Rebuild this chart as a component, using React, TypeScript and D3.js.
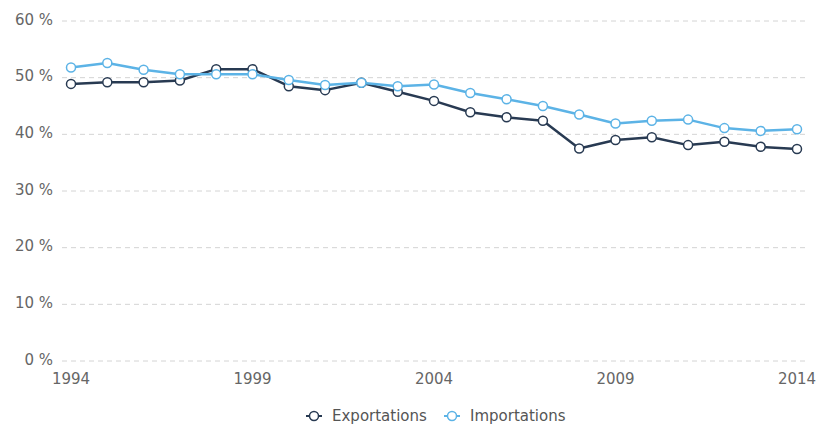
import React, { useEffect, useRef } from 'react';
import * as d3 from 'd3';

const WIDTH = 819;
const HEIGHT = 425;
const MARGIN = { top: 21, right: 22, bottom: 64, left: 71 };
const FONT = "'DejaVu Sans', Verdana, sans-serif";

const YEARS = [1994, 1995, 1996, 1997, 1998, 1999, 2000, 2001, 2002, 2003, 2004,
    2005, 2006, 2007, 2008, 2009, 2010, 2011, 2012, 2013, 2014];
const EXPORTS = [48.9, 49.2, 49.2, 49.5, 51.5, 51.5, 48.5, 47.8, 49.1, 47.5, 45.9,
    43.9, 43.0, 42.4, 37.5, 39.0, 39.5, 38.1, 38.7, 37.8, 37.4];
const IMPORTS = [51.8, 52.6, 51.4, 50.6, 50.6, 50.6, 49.6, 48.7, 49.1, 48.5, 48.8,
    47.3, 46.2, 45.0, 43.5, 41.9, 42.4, 42.6, 41.1, 40.6, 40.9];
const Y_TICKS = [0, 10, 20, 30, 40, 50, 60];
const X_TICKS = [1994, 1999, 2004, 2009, 2014];
const SERIES = [
    { name: "Exportations", values: EXPORTS, color: "#283a52" },
    { name: "Importations", values: IMPORTS, color: "#5cb3e6" },
];

export default function App() {
    const ref = useRef<SVGSVGElement>(null);

    useEffect(() => {
        if (!ref.current) return;
        const svg = d3.select(ref.current);
        svg.selectAll("*").remove();

        const x = d3.scaleLinear()
            .domain([1994, 2014])
            .range([MARGIN.left, WIDTH - MARGIN.right]);
        const y = d3.scaleLinear()
            .domain([0, 60])
            .range([HEIGHT - MARGIN.bottom, MARGIN.top]);

        // grid lines
        svg.append("g")
            .selectAll("line")
            .data(Y_TICKS)
            .join("line")
            .attr("x1", 62)
            .attr("x2", 806)
            .attr("y1", d => y(d))
            .attr("y2", d => y(d))
            .attr("stroke", "#d4d4d4")
            .attr("stroke-dasharray", "5,4");

        // y labels
        svg.append("g")
            .selectAll("text")
            .data(Y_TICKS)
            .join("text")
            .attr("x", 53)
            .attr("y", d => y(d) - 1)
            .attr("text-anchor", "end")
            .attr("dominant-baseline", "middle")
            .attr("font-family", FONT)
            .attr("font-size", 15)
            .attr("fill", "#666")
            .text(d => `${d} %`);

        // x labels
        svg.append("g")
            .selectAll("text")
            .data(X_TICKS)
            .join("text")
            .attr("x", d => x(d))
            .attr("y", 384)
            .attr("text-anchor", "middle")
            .attr("font-family", FONT)
            .attr("font-size", 15)
            .attr("fill", "#666")
            .text(d => d);

        const line = d3.line<number>()
            .x((_, i) => x(YEARS[i]))
            .y(d => y(d));

        SERIES.forEach(s => {
            const g = svg.append("g");
            g.append("path")
                .datum(s.values)
                .attr("d", line)
                .attr("fill", "none")
                .attr("stroke", s.color)
                .attr("stroke-width", 2.5)
                .attr("stroke-linejoin", "round");
            g.selectAll("circle")
                .data(s.values)
                .join("circle")
                .attr("cx", (_, i) => x(YEARS[i]))
                .attr("cy", d => y(d))
                .attr("r", 4.5)
                .attr("fill", "#fff")
                .attr("stroke", s.color)
                .attr("stroke-width", 1.5);
        });

        // legend
        const legend = svg.append("g");
        const legendX = [306, 444];
        SERIES.forEach((s, i) => {
            const lg = legend.append("g").attr("transform", `translate(${legendX[i]}, 416)`);
            lg.append("line")
                .attr("x1", 0).attr("x2", 16)
                .attr("stroke", s.color).attr("stroke-width", 2);
            lg.append("circle")
                .attr("cx", 8).attr("r", 4.5)
                .attr("fill", "#fff")
                .attr("stroke", s.color).attr("stroke-width", 1.5);
            lg.append("text")
                .attr("x", 26)
                .attr("dominant-baseline", "middle")
                .attr("font-family", FONT)
                .attr("font-size", 15)
                .attr("fill", "#555")
                .text(s.name);
        });
    }, []);

    return (
        <svg ref={ref} width={WIDTH} height={HEIGHT}
            style={{ position: "absolute", left: 0, top: 0, background: "#fff" }} />
    );
}
